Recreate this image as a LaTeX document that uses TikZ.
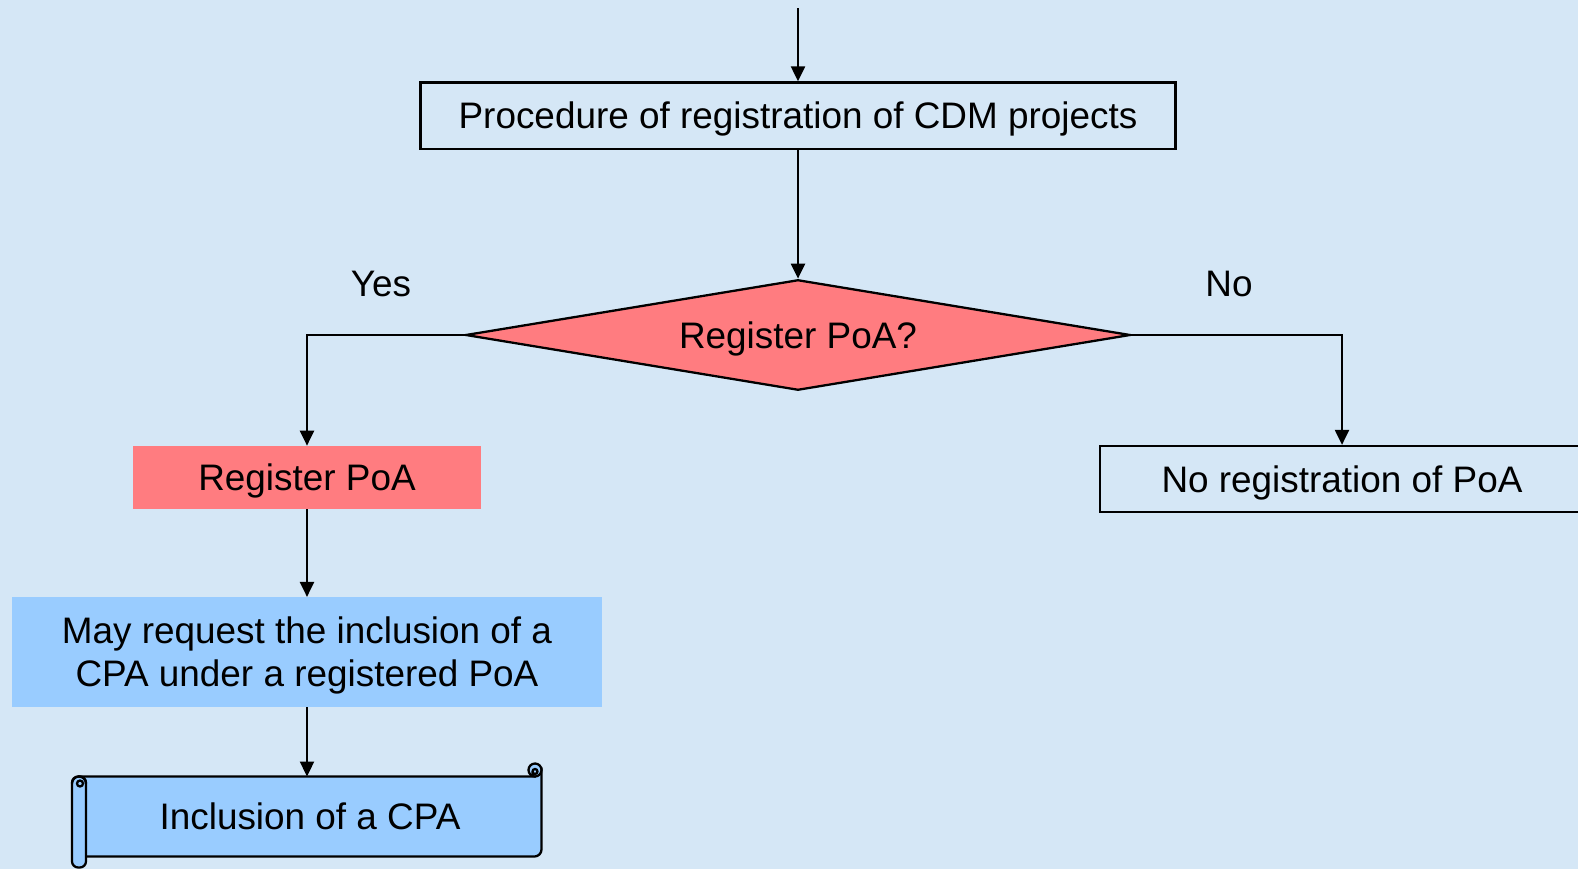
\documentclass[tikz,border=0pt]{standalone}
\usepackage{fontspec}
\setmainfont{Liberation Sans}
\usepackage{tikz}
\usetikzlibrary{arrows.meta}
\usetikzlibrary{shapes}
\usepackage{xcolor}
\definecolor{bgblue}{HTML}{D5E7F6}
\definecolor{salmon}{HTML}{FF7C80}
\definecolor{skyblue}{HTML}{99CCFF}
\tikzstyle{txt}=[font=\fontsize{21}{24.5}\selectfont, align=center, inner sep=0pt, text height=15pt, text depth=0pt]
\tikzstyle{boxed}=[txt, draw, line width=1.3pt]
\tikzstyle{pinkbox}=[txt, fill=salmon]
\tikzstyle{bluebox}=[txt, fill=skyblue]
\tikzstyle{arr}=[line width=1.3pt, -{Triangle[length=0.3cm,width=0.28cm]}]
% horizontal scroll: style, left, top, right, bottom (in px)
\newcommand{\hscroll}[5]{
 \filldraw[line width=1.3pt, #1] (#2+7,#3) -- (#4-6.5,#3) -- (#4,#3-6.5) -- (#4,#5-7) arc (0:90:7) -- (#2+7,#5) -- cycle;
 \filldraw[line width=1.3pt, #1] (#4-6.5,#3-6.5) circle (6.5);
 \draw[line width=1.3pt] (#4-6.5,#3-5) circle (2.5) (#4-9,#3-5) -- (#4-9,#3);
 \filldraw[line width=1.3pt, #1, rounded corners=3.5pt] (#2,#3) rectangle (#2+14,#5+11);
 \draw[line width=1.3pt] (#2,#3+7) arc (180:360:7) (#2+8,#3+7) circle (3);
}

\begin{document}
\begin{tikzpicture}[x=0.02cm, y=-0.02cm]
 \path[use as bounding box] (0,0) rectangle (1578,869);
 \fill[bgblue] (0,0) rectangle (1578,869);
%
 \coordinate (start) at (798,8);
 \node[boxed, minimum width=15.1cm, minimum height=1.33cm] (proc) at (798,115.7) {Procedure of registration of CDM projects};
 \node[txt, diamond, aspect=6, draw, line width=1.3pt, fill=salmon, minimum width=13.3cm, minimum height=2.21cm] (dec) at (798,335) {Register PoA?};
 \node[txt] (yes) at (381,283) {Yes};
 \node[txt] (no) at (1229,283) {No};
%
 \node[pinkbox, minimum width=6.96cm, minimum height=1.26cm] (reg) at (307,477.5) {Register PoA};
 \node[boxed, minimum width=9.68cm, minimum height=1.32cm] (noreg) at (1342,479) {No registration of PoA};
 \node[bluebox, text height=39.5pt, minimum width=11.8cm, minimum height=2.19cm] (may) at (307,652) {May request the inclusion of a\\CPA under a registered PoA};
%
 \hscroll{fill=skyblue}{72}{776.5}{541.5}{856.5}
 \node[txt] (incl) at (310,816) {Inclusion of a CPA};
 \coordinate (scrolltop) at (307,776.5);
%
 \draw[arr] (start) -- (proc);
 \draw[arr] (proc) -- (dec);
 \draw[arr] (dec.west) -| (reg.north);
 \draw[arr] (dec.east) -| (noreg.north);
 \draw[arr] (reg) -- (may);
 \draw[arr] (may) -- (scrolltop);
\end{tikzpicture}
\end{document}
